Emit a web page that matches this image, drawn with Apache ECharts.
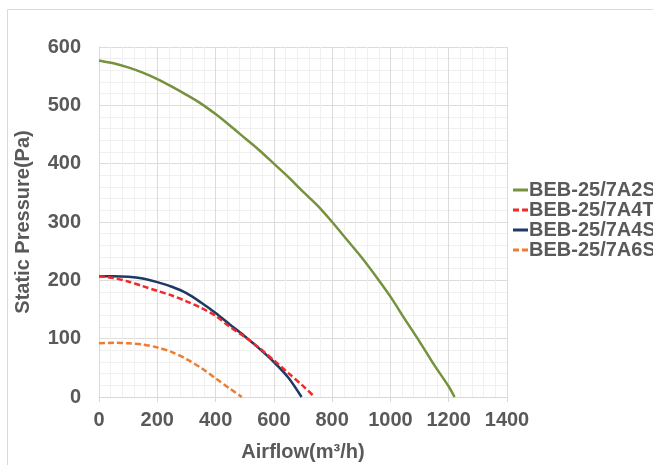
<!DOCTYPE html>
<html>
<head>
<meta charset="utf-8">
<script src="https://cdn.jsdelivr.net/npm/echarts@6/dist/echarts.min.js"></script>
<style>
html,body{margin:0;padding:0;background:#fff;}
#chart{width:653px;height:465px;}
</style>
</head>
<body>
<div id="chart"></div>
<script>
// Series names
const seriesNames = ['BEB-25/7A2S', 'BEB-25/7A4T', 'BEB-25/7A4S', 'BEB-25/7A6S'];

// BEB-25/7A2S: [airflow, static pressure]
const a2sFlow = [0, 50, 100, 150, 200, 250, 300, 350, 400, 450, 500, 550, 600, 650, 700, 750, 800, 850, 900, 950, 1000, 1050, 1100, 1150, 1200, 1220];
const a2sPres = [577, 572, 565, 556, 545, 532, 518, 503, 485, 465, 444, 423, 400, 377, 352, 328, 300, 270, 240, 207, 172, 133, 95, 55, 18, 0];

// BEB-25/7A4T
const a4tFlow = [0, 50, 100, 150, 200, 250, 300, 350, 400, 450, 500, 550, 600, 650, 700, 740];
const a4tPres = [207, 204, 198, 190, 182, 174, 164, 153, 139, 120, 103, 84, 63, 41, 19, 0];

// BEB-25/7A4S
const a4sFlow = [0, 50, 100, 150, 200, 250, 300, 350, 400, 450, 500, 550, 600, 650, 695];
const a4sPres = [207, 207, 206, 203, 197, 189, 178, 162, 144, 124, 104, 83, 60, 33, 0];

// BEB-25/7A6S
const a6sFlow = [0, 50, 100, 150, 200, 250, 300, 350, 400, 450, 490];
const a6sPres = [92, 93, 92, 90, 85, 77, 65, 50, 32, 14, 0];

const xTicks = [0, 200, 400, 600, 800, 1000, 1200, 1400];
const yTicks = [0, 100, 200, 300, 400, 500, 600];

function pairs(xs, ys) { return xs.map((x, i) => [x, ys[i]]); }

const colors = ['#76923C', '#EE2A2A', '#1F3864', '#ED7D31'];
const lineTypes = ['solid', [6, 3], 'solid', [6, 3]];
const legendIcons = [
  'path://M0,0H15V3H0Z',
  'path://M0,0H6V3H0Z M9,0H15V3H9Z',
  'path://M0,0H15V3H0Z',
  'path://M0,0H6V3H0Z M9,0H15V3H9Z'
];
const datasets = [pairs(a2sFlow, a2sPres), pairs(a4tFlow, a4tPres), pairs(a4sFlow, a4sPres), pairs(a6sFlow, a6sPres)];

const textColor = '#595959';
const font = 'Liberation Sans, Arial, sans-serif';

const chart = echarts.init(document.getElementById('chart'), null, {renderer: 'canvas'});
chart.setOption({
  animation: false,
  backgroundColor: '#fff',
  graphic: [{
    type: 'rect',
    shape: {x: 7.5, y: 9.5, width: 800, height: 600},
    style: {fill: 'none', stroke: '#d9d9d9', lineWidth: 1},
    silent: true, z: -1
  }],
  grid: {left: 99, top: 47, width: 408, height: 350, containLabel: false, outerBoundsMode: 'none'},
  legend: {
    orient: 'vertical',
    left: 513,
    top: 180,
    itemGap: 0,
    itemWidth: 15,
    itemHeight: 3,
    padding: 0,
    data: seriesNames.map((n, i) => ({name: n, icon: legendIcons[i], itemStyle: {color: colors[i]}})),
    textStyle: {color: textColor, fontSize: 20, fontWeight: 'bold', fontFamily: font, lineHeight: 20, padding: [0, 0, 0, -4]}
  },
  xAxis: {
    type: 'value', min: 0, max: 1400, interval: 200,
    name: 'Airflow(m³/h)', nameLocation: 'middle', nameGap: 45,
    nameTextStyle: {color: textColor, fontSize: 20, fontWeight: 'bold', fontFamily: font},
    axisLine: {show: true, onZero: false, lineStyle: {color: '#d9d9d9', width: 1}},
    axisTick: {show: true, length: 5, lineStyle: {color: '#d9d9d9'}},
    axisLabel: {color: textColor, fontSize: 20, fontWeight: 'bold', fontFamily: font, margin: 13,
      formatter: v => xTicks.includes(v) ? String(v) : ''},
    splitLine: {show: true, lineStyle: {color: '#dcdcdc', width: 1}},
    minorTick: {show: false, splitNumber: 5},
    minorSplitLine: {show: true, lineStyle: {color: '#f0f0f0', width: 1}}
  },
  yAxis: {
    type: 'value', min: 0, max: 600, interval: 100,
    name: 'Static Pressure(Pa)', nameLocation: 'middle', nameGap: 66, nameRotate: 90,
    nameTextStyle: {color: textColor, fontSize: 20, fontWeight: 'bold', fontFamily: font},
    axisLine: {show: true, lineStyle: {color: '#d9d9d9', width: 1}},
    axisTick: {show: false},
    axisLabel: {color: textColor, fontSize: 20, fontWeight: 'bold', fontFamily: font, margin: 18,
      formatter: v => yTicks.includes(v) ? String(v) : ''},
    splitLine: {show: true, lineStyle: {color: '#dcdcdc', width: 1}},
    minorTick: {show: false, splitNumber: 5},
    minorSplitLine: {show: true, lineStyle: {color: '#f0f0f0', width: 1}}
  },
  series: seriesNames.map((n, i) => ({
    name: n,
    type: 'line',
    data: datasets[i],
    smooth: 0.3,
    symbol: 'none',
    color: colors[i],
    lineStyle: {color: colors[i], width: 2.5, type: lineTypes[i]},
    z: 10 - i
  }))
});
</script>
</body>
</html>
